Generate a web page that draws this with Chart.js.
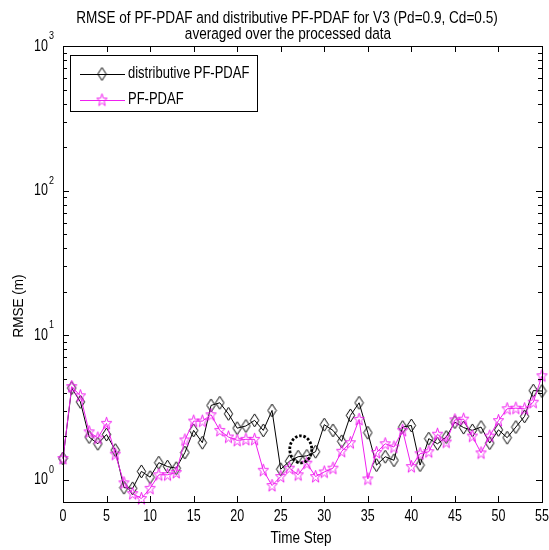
<!DOCTYPE html>
<html>
<head>
<meta charset="utf-8">
<script src="https://cdn.jsdelivr.net/npm/chart.js@4.4.1/dist/chart.umd.min.js"></script>
<style>
  html, body { margin: 0; padding: 0; background: #fff; }
  canvas { display: block; }
</style>
</head>
<body>
<canvas id="rmseChart" width="549" height="550"></canvas>
<script>
// Time steps and RMSE values (m) for both filters
const steps = [0, 1, 2, 3, 4, 5, 6, 7, 8, 9, 10, 11, 12, 13, 14, 15, 16, 17, 18, 19,
    20, 21, 22, 23, 24, 25, 26, 27, 28, 29, 30, 31, 32, 33, 34, 35, 36, 37, 38, 39,
    40, 41, 42, 43, 44, 45, 46, 47, 48, 49, 50, 51, 52, 53, 54, 55];

const distributiveRmse = [1.40, 4.30, 3.45, 1.97, 1.77, 2.05, 1.60, 0.88, 0.87, 1.14,
    1.04, 1.31, 1.23, 1.20, 1.54, 2.19, 1.80, 3.26, 3.40, 2.85,
    2.27, 2.35, 2.57, 2.19, 3.01, 1.18, 1.34, 1.44, 1.46, 1.56,
    2.40, 2.19, 1.84, 2.78, 3.40, 2.11, 1.26, 1.44, 1.36, 2.31,
    2.37, 1.26, 1.92, 1.77, 1.97, 2.50, 2.29, 2.19, 2.31, 1.79,
    2.21, 1.95, 2.31, 2.74, 4.13, 4.10];

const pfPdafRmse = [1.40, 4.40, 3.80, 2.14, 1.94, 2.45, 1.50, 0.95, 0.80, 0.74,
    0.87, 1.08, 1.08, 1.12, 1.88, 2.54, 2.54, 2.81, 2.19, 1.97,
    1.87, 1.90, 1.90, 1.16, 0.91, 1.05, 1.20, 1.08, 1.30, 1.05,
    1.13, 1.20, 1.57, 1.80, 2.61, 1.01, 1.54, 1.77, 1.68, 2.19,
    1.23, 1.51, 1.56, 2.06, 1.82, 2.59, 2.62, 2.00, 1.53, 2.00,
    2.56, 3.09, 3.12, 3.09, 3.43, 5.23];

const xTicks = [0, 5, 10, 15, 20, 25, 30, 35, 40, 45, 50, 55];
const yTicks = [1, 10, 100, 1000];
const yTickExponents = ['0', '1', '2', '3'];
const yMinorTicks = [2, 3, 4, 5, 6, 7, 8, 9, 20, 30, 40, 50, 60, 70, 80, 90,
    200, 300, 400, 500, 600, 700, 800, 900];

// dotted ring marking the step of interest
const ringCenter = { x: 27.3, y: 1.62 };

const titleLines = ['RMSE of PF-PDAF and distributive PF-PDAF for V3 (Pd=0.9, Cd=0.5)',
    'averaged over the processed data'];

const MAGENTA = '#f020f0';
const FONT = '"Liberation Sans", Arial, sans-serif';

// Marker images (unfilled diamond and pentagram)
function makeDiamond() {
    const c = document.createElement('canvas');
    c.width = 11; c.height = 15;
    const g = c.getContext('2d');
    g.strokeStyle = '#000';
    g.lineWidth = 1;
    g.beginPath();
    g.moveTo(5.5, 1);
    g.lineTo(9.7, 7.5);
    g.lineTo(5.5, 14);
    g.lineTo(1.3, 7.5);
    g.closePath();
    g.stroke();
    return c;
}

function makeStar() {
    const c = document.createElement('canvas');
    c.width = 13; c.height = 15;
    const g = c.getContext('2d');
    g.strokeStyle = MAGENTA;
    g.lineWidth = 1;
    g.beginPath();
    for (let k = 0; k < 10; k++) {
        const r = k % 2 === 0 ? 5.5 : 2.3;
        const a = -Math.PI / 2 + k * Math.PI / 5;
        const px = 6.5 + r * Math.cos(a);
        const py = 7.8 + r * 1.2 * Math.sin(a);
        if (k === 0) g.moveTo(px, py); else g.lineTo(px, py);
    }
    g.closePath();
    g.stroke();
    return c;
}

const diamondImg = makeDiamond();
const starImg = makeStar();

// Text with a slight vertical stretch
function drawText(ctx, str, x, y, size, sy, align, baseline) {
    ctx.save();
    ctx.font = size + 'px ' + FONT;
    ctx.fillStyle = '#000';
    ctx.textAlign = align;
    ctx.textBaseline = baseline;
    ctx.translate(x, y);
    ctx.scale(1, sy);
    ctx.fillText(str, 0, 0);
    ctx.restore();
}

const axesPlugin = {
    id: 'axesPlugin',
    afterDatasetsDraw(chart) {
        const ctx = chart.ctx;
        const area = chart.chartArea;
        const xs = chart.scales.x;
        const ys = chart.scales.y;

        // dotted ring
        ctx.save();
        ctx.strokeStyle = '#000';
        ctx.lineWidth = 2.8;
        ctx.setLineDash([2.5, 1.8]);
        ctx.beginPath();
        ctx.ellipse(xs.getPixelForValue(ringCenter.x), ys.getPixelForValue(ringCenter.y), 11, 13.5, 0, 0, Math.PI * 2);
        ctx.stroke();
        ctx.restore();

        // axes box
        ctx.save();
        ctx.strokeStyle = '#000';
        ctx.lineWidth = 1;
        ctx.strokeRect(area.left + 0.5, area.top + 0.5, area.right - area.left, area.bottom - area.top);

        // inward ticks
        ctx.beginPath();
        xTicks.forEach(v => {
            const px = Math.round(xs.getPixelForValue(v)) + 0.5;
            ctx.moveTo(px, area.bottom);
            ctx.lineTo(px, area.bottom - 6);
            ctx.moveTo(px, area.top);
            ctx.lineTo(px, area.top + 6);
        });
        yTicks.forEach(v => {
            const py = Math.round(ys.getPixelForValue(v)) + 0.5;
            ctx.moveTo(area.left, py);
            ctx.lineTo(area.left + 6, py);
            ctx.moveTo(area.right, py);
            ctx.lineTo(area.right - 6, py);
        });
        yMinorTicks.forEach(v => {
            const py = Math.round(ys.getPixelForValue(v)) + 0.5;
            ctx.moveTo(area.left, py);
            ctx.lineTo(area.left + 4, py);
            ctx.moveTo(area.right, py);
            ctx.lineTo(area.right - 4, py);
        });
        ctx.stroke();
        ctx.restore();

        // tick labels
        xTicks.forEach(v => {
            drawText(ctx, String(v), xs.getPixelForValue(v), 516, 12.5, 1.35, 'center', 'middle');
        });
        yTicks.forEach((v, i) => {
            const py = ys.getPixelForValue(v);
            drawText(ctx, '10', 48, py, 12.5, 1.35, 'right', 'middle');
            drawText(ctx, yTickExponents[i], 49, py - 10, 9, 1.3, 'left', 'middle');
        });

        // titles
        drawText(ctx, titleLines[0], 287, 18, 13.6, 1.2, 'center', 'middle');
        drawText(ctx, titleLines[1], 288, 34, 13.6, 1.2, 'center', 'middle');
        drawText(ctx, 'Time Step', 301, 538, 13.5, 1.25, 'center', 'middle');
        ctx.save();
        ctx.translate(19, 306);
        ctx.rotate(-Math.PI / 2);
        drawText(ctx, 'RMSE (m)', 0, 0, 13.5, 1.15, 'center', 'middle');
        ctx.restore();

        // legend
        ctx.save();
        ctx.fillStyle = '#fff';
        ctx.fillRect(70, 55, 187, 56);
        ctx.strokeStyle = '#000';
        ctx.lineWidth = 1;
        ctx.strokeRect(70.5, 55.5, 187, 56);
        const rows = [
            { ds: chart.data.datasets[0], img: diamondImg, y: 74 },
            { ds: chart.data.datasets[1], img: starImg, y: 100 }
        ];
        rows.forEach(r => {
            ctx.strokeStyle = r.ds.borderColor;
            ctx.beginPath();
            ctx.moveTo(80, r.y + 0.5);
            ctx.lineTo(125, r.y + 0.5);
            ctx.stroke();
            ctx.drawImage(r.img, 102 - r.img.width / 2, r.y - r.img.height / 2);
            drawText(ctx, r.ds.label, 128, r.y, 13, 1.2, 'left', 'middle');
        });
        ctx.restore();
    }
};

new Chart(document.getElementById('rmseChart'), {
    type: 'line',
    data: {
        labels: steps,
        datasets: [
            {
                label: 'distributive PF-PDAF',
                data: distributiveRmse,
                borderColor: '#000',
                borderWidth: 1,
                pointStyle: diamondImg,
                tension: 0,
                clip: false,
                order: 2
            },
            {
                label: 'PF-PDAF',
                data: pfPdafRmse,
                borderColor: MAGENTA,
                borderWidth: 1,
                pointStyle: starImg,
                tension: 0,
                clip: false,
                order: 1
            }
        ]
    },
    options: {
        responsive: false,
        animation: false,
        devicePixelRatio: 1,
        layout: {
            padding: { left: 63, top: 46, right: 7, bottom: 48 }
        },
        plugins: {
            legend: { display: false },
            tooltip: { enabled: false }
        },
        scales: {
            x: {
                type: 'linear',
                display: false,
                min: 0,
                max: 55
            },
            y: {
                type: 'logarithmic',
                display: false,
                min: 0.74,
                max: 1000
            }
        }
    },
    plugins: [axesPlugin]
});
</script>
</body>
</html>
